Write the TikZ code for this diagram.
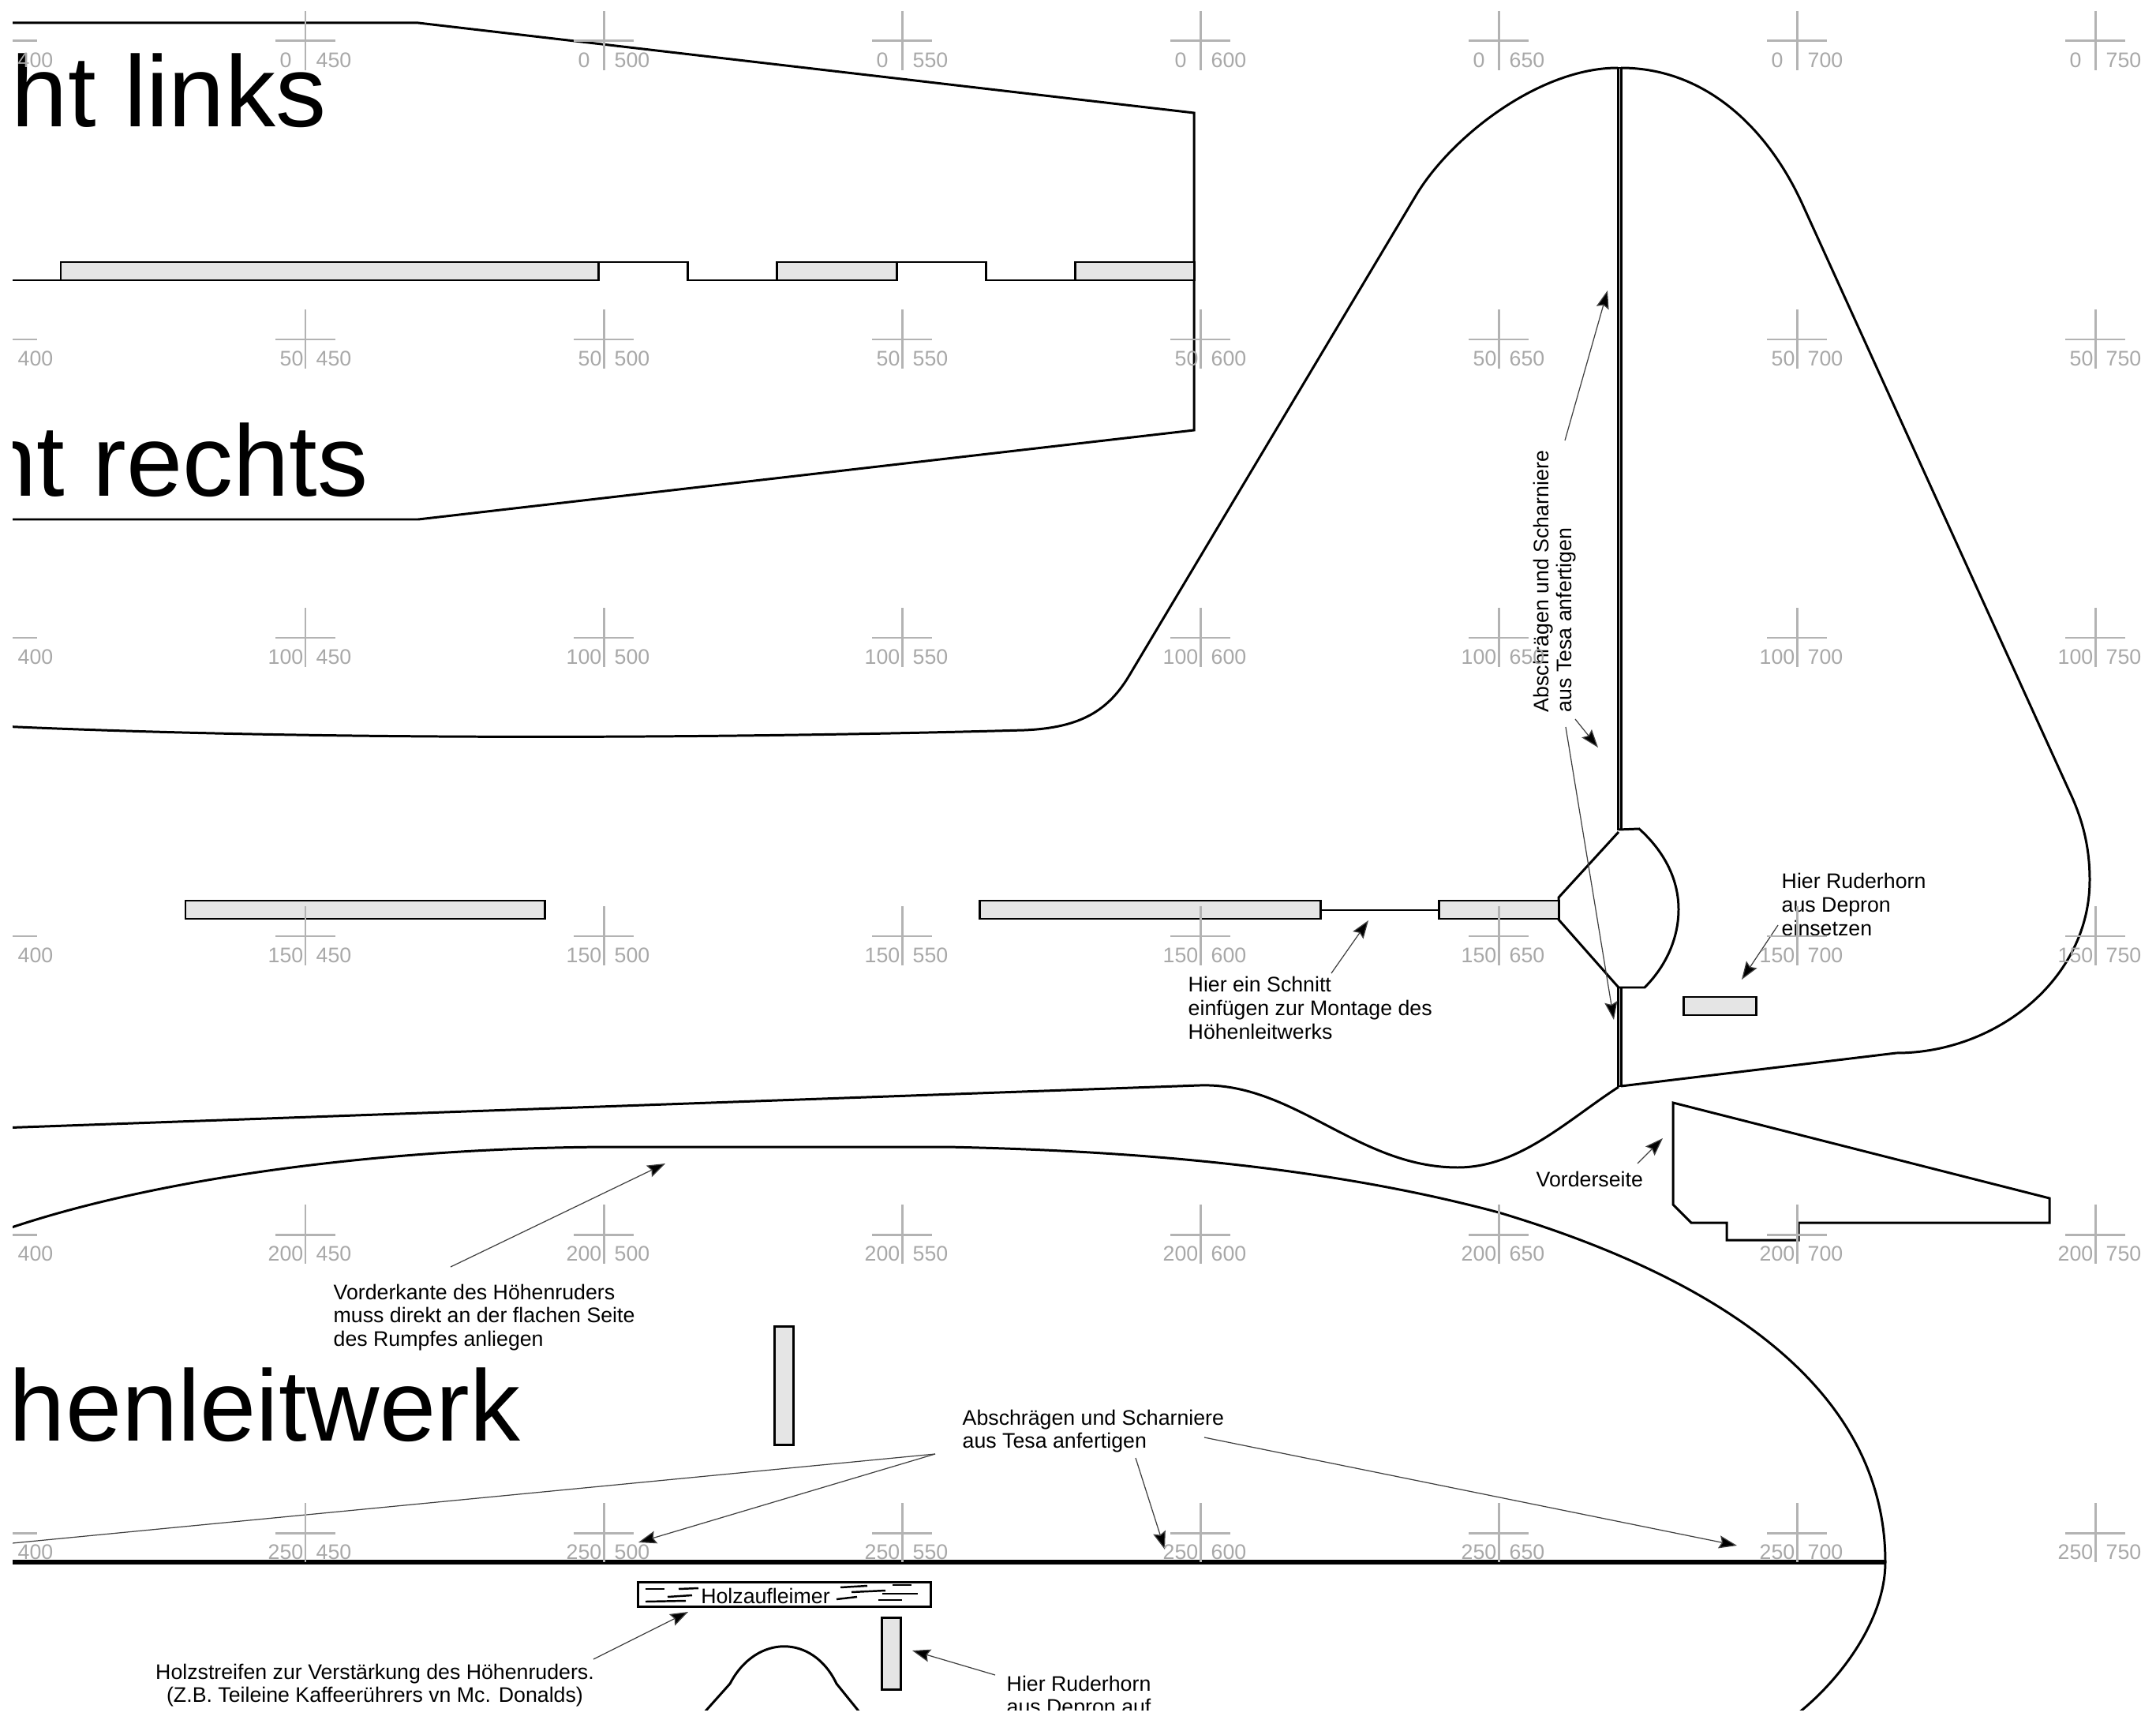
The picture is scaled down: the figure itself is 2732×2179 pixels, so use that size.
\documentclass[tikz,border=0pt]{standalone}
\usepackage{fontspec}
\setmainfont{Liberation Sans}
\usetikzlibrary{arrows.meta}
\definecolor{kreuz}{HTML}{B3B3B3}
\definecolor{zahlgrau}{HTML}{A8A8A8}
\definecolor{teilgrau}{HTML}{E5E5E5}
\tikzset{
	kante/.style={line width=0.85pt,line join=miter},
	teil/.style={kante,fill=teilgrau},
	maser/.style={line width=0.7pt},
	pfeil/.style={line width=0.35pt,draw=black!75,-{Stealth[length=6.5pt,width=4.6pt,inset=1pt,fill=black]}},
	notiz/.style={font=\fontsize{7.6}{8.42}\selectfont,inner sep=0pt,align=left},
	gross/.style={font=\fontsize{36.4}{40}\selectfont,inner sep=0pt,anchor=base east},
	marke/.style={line width=0.85pt,draw=kreuz},
	zahl/.style={font=\fontsize{7.6}{8.42}\selectfont,text=zahlgrau,inner sep=0pt,anchor=west}
}

\begin{document}
\begin{tikzpicture}[x=0.01cm,y=-0.01cm]
			\useasboundingbox (0,0) rectangle (2732,2179);
			\begin{scope}
				\clip (16,0) rectangle (2732,2166);
				
				% obere Teile
				\draw[kante] (0,29) -- (530,29) -- (1513,143) -- (1513,545) -- (530,658) -- (0,658);
				\draw[kante] (0,355) -- (77,355);
				\draw[teil] (77,332) rectangle (758,355);
				\draw[kante] (758,332) -- (871,332) -- (871,355) -- (984,355);
				\draw[teil] (984,332) rectangle (1136,355);
				\draw[kante] (1136,332) -- (1249,332) -- (1249,355) -- (1362,355);
				\draw[teil] (1362,332) rectangle (1513,355);
				
				% Seitenleitwerk
				\draw[kante] (0,920) .. controls (400,938) and (900,936) .. (1298,925) .. controls (1370,922) and (1405,900) .. (1432,854) -- (1794,248) .. controls (1838,174) and (1950,86) .. (2050,86);
				\draw[kante] (2054,86) .. controls (2160,86) and (2240,161) .. (2285,261) -- (2622,1002) .. controls (2640,1040) and (2648,1075) .. (2648,1115) .. controls (2648,1240) and (2530,1334) .. (2403,1334) -- (2054,1376);
				\draw[line width=0.7pt,fill=teilgrau] (2050.5,86) rectangle (2054.5,1051);
				\draw[line width=0.7pt,fill=teilgrau] (2050.5,1251) rectangle (2054.5,1376);
				\draw[kante] (2051,1051) -- (2077,1050) .. controls (2105,1075) and (2127,1110) .. (2127,1152) .. controls (2127,1190) and (2110,1225) .. (2084,1251) -- (2051,1251);
				\draw[kante] (2051,1054) -- (1975,1137) -- (1975,1165) -- (2051,1251);
				\draw[kante] (0,1429) -- (1520,1375) .. controls (1640,1371) and (1720,1479) .. (1847,1479) .. controls (1925,1479) and (1985,1420) .. (2051,1377);
				
				% Streifen Mitte
				\draw[teil] (235,1141) rectangle (690,1164);
				\draw[teil] (1241,1141) rectangle (1673,1164);
				\draw[kante] (1673,1153) -- (1823,1153);
				\draw[teil] (1823,1141) rectangle (1975,1164);
				\draw[teil] (2133,1263) rectangle (2225,1286);
				
				% Ruderhorn
				\draw[kante] (2120,1397) -- (2597,1518) -- (2597,1549) -- (2279,1549) -- (2279,1571) -- (2188,1571) -- (2188,1549) -- (2143,1549) -- (2120,1526) -- cycle;
				
				% Hoehenruder
				\draw[kante] (0,1560) .. controls (200,1490) and (500,1453) .. (784,1453) -- (1199,1453) .. controls (1450,1458) and (1690,1480) .. (1899,1536) .. controls (2180,1620) and (2389,1760) .. (2389,1979) .. controls (2389,2050) and (2335,2125) .. (2279,2170);
				\draw[line width=1.6pt] (0,1979) -- (2389,1979);
				\draw[teil] (981,1680) rectangle (1005,1830);
				\draw[teil] (1117,2049) rectangle (1141,2140);
				\draw[kante] (808,2004) rectangle (1179,2035);
				\draw[kante] (883,2180) -- (925,2133) .. controls (958,2070) and (1030,2070) .. (1060,2133) -- (1098,2180);
				
				% Maserung
				\foreach \ax/\ay/\bx/\by in {818/2013/842/2013,860/2013/885/2012,846/2023/877/2021,818/2029/869/2028,1065/2011/1099/2009,1079/2017/1122/2015,1131/2008/1155/2008,1118/2019/1163/2019,1060/2026/1086/2023,1113/2027/1143/2027}
					\draw[maser] (\ax,\ay) -- (\bx,\by);
				
				% Beschriftung
				\node (titel1) at (414,161) [gross] {ht links};
				\node (titel2) at (467,629) [gross] {ht rechts};
				\node (titel3) at (660,1825) [gross] {henleitwerk};
				\node (holz) at (970,2022) [notiz] {Holzaufleimer};
				\node (naht) at (1998,903) [notiz,rotate=90,anchor=south west] {Abschrägen und Scharniere\\aus Tesa anfertigen};
				\node (horn) at (2257,1146) [notiz,anchor=west] {Hier Ruderhorn\\aus Depron\\einsetzen};
				\node (schnitt) at (1505,1277) [notiz,anchor=west] {Hier ein Schnitt\\einfügen zur Montage des\\Höhenleitwerks};
				\node (vorne) at (1946,1494) [notiz,anchor=west] {Vorderseite};
				\node (rumpf) at (422,1669) [notiz,anchor=west] {Vorderkante des Höhenruders\\muss direkt an der flachen Seite\\des Rumpfes anliegen};
				\node (tesa) at (1219,1813) [notiz,anchor=west] {Abschrägen und Scharniere\\aus Tesa anfertigen};
				\node (streifen) at (475,2135) [notiz,align=center] {Holzstreifen zur Verstärkung des Höhenruders.\\(Z.B. Teileine Kaffeerührers vn Mc. Donalds)};
				\node (auf) at (1275,2150) [notiz,anchor=west] {Hier Ruderhorn\\aus Depron auf};
				
				% Pfeile
				\coordinate (a1) at (1983,558);
				\coordinate (b1) at (2037,368);
				\coordinate (a2) at (1996,911);
				\coordinate (b2) at (2025,947);
				\coordinate (a3) at (1984,921);
				\coordinate (b3) at (2045,1292);
				\coordinate (a4) at (2253,1172);
				\coordinate (b4) at (2207,1241);
				\coordinate (a5) at (1687,1233);
				\coordinate (b5) at (1734,1166);
				\coordinate (a6) at (2075,1474);
				\coordinate (b6) at (2107,1442);
				\coordinate (a7) at (571,1605);
				\coordinate (b7) at (843,1474);
				\coordinate (a8) at (1185,1842);
				\coordinate (b8) at (-150,1971);
				\coordinate (a9) at (1185,1842);
				\coordinate (b9) at (809,1954);
				\coordinate (a10) at (1439,1847);
				\coordinate (b10) at (1476,1963);
				\coordinate (a11) at (1526,1821);
				\coordinate (b11) at (2201,1958);
				\coordinate (a12) at (752,2102);
				\coordinate (b12) at (872,2042);
				\coordinate (a13) at (1261,2122);
				\coordinate (b13) at (1156,2091);
				\foreach \n in {1,...,13}
					\draw[pfeil] (a\n) -- (b\n);
				
				% Kreuze
				\foreach \r/\ry/\ro in {0/52/-33,50/430/-33,100/808/-48,150/1186/-48,200/1564/-48,250/1942/-48}
					\foreach \c/\cx in {400/9,450/387,500/765,550/1143,600/1521,650/1899,700/2277,750/2655} {
						\draw[marke] ({\cx-38},\ry) -- ({\cx+38},\ry);
						\draw[marke] (\cx,{\ry-38}) -- (\cx,{\ry+37});
						\node (z\r-\c) at ({\cx+\ro},{\ry+24}) [zahl] {\r};
						\node (s\r-\c) at ({\cx+13},{\ry+24}) [zahl] {\c};
					}
			\end{scope}
		\end{tikzpicture}
\end{document}
